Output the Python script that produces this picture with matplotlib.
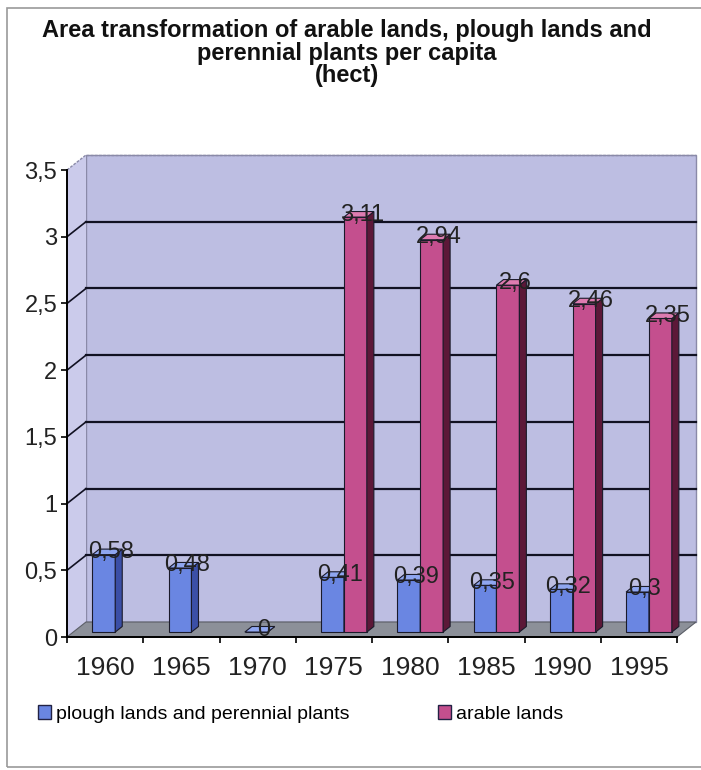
import matplotlib.pyplot as plt
import numpy as np
from matplotlib.patches import Polygon, Rectangle, Patch

years = ['1960', '1965', '1970', '1975', '1980', '1985', '1990', '1995']
plough = [0.58, 0.48, 0, 0.41, 0.39, 0.35, 0.32, 0.3]
arable = [None, None, None, 3.11, 2.94, 2.6, 2.46, 2.35]
yticks = [0, 0.5, 1, 1.5, 2, 2.5, 3, 3.5]
title_lines = ['Area transformation of arable lands, plough lands and',
               'perennial plants per capita', '(hect)']

plt.rcParams['font.family'] = ['Liberation Sans', 'DejaVu Sans']

W, H = 701, 770
fig = plt.figure(figsize=(W / 100, H / 100), dpi=100)
fig.patch.set_facecolor('white')

# front plane of the plot area
ax = fig.add_axes([67 / W, 1 - 637 / H, 610 / W, 467 / H])
ax.set_xlim(-0.5, len(years) - 0.5)
ax.set_ylim(0, 3.5)
ax.patch.set_visible(False)

# depth offset of the back wall in pixels
DX, DY = 19, 15


def P(x, y, d=0.0):
    px = ax.transData.transform((x, y)) + d * np.array([DX, DY])
    return fig.transFigure.inverted().transform(px)


def poly(pts, fc, ec='none', lw=0.8, z=1, ls='-'):
    p = Polygon(pts, closed=True, facecolor=fc, edgecolor=ec, lw=lw, ls=ls,
                transform=fig.transFigure, clip_on=False, zorder=z)
    ax.add_artist(p)


def line(a, b, color='black', lw=1.2, z=1.5, ls='-'):
    ax.plot([a[0], b[0]], [a[1], b[1]], color=color, lw=lw, ls=ls,
            transform=fig.transFigure, clip_on=False, zorder=z)


x0, x1 = -0.5, len(years) - 0.5
ytop = yticks[-1]

# back wall, side wall and floor
poly([P(x0, 0, 1), P(x1, 0, 1), P(x1, ytop, 1), P(x0, ytop, 1)], '#bdbee2', ec='#8a8aa8', lw=1.0)
poly([P(x0, 0, 0), P(x0, 0, 1), P(x0, ytop, 1), P(x0, ytop, 0)], '#cbcbeb', ec='none')
poly([P(x0, 0, 0), P(x1, 0, 0), P(x1, 0, 1), P(x0, 0, 1)], '#8c9099', ec='#5a5d66', lw=0.8, z=1.2)
line(P(x0, ytop, 0), P(x0, ytop, 1), color='#8a8aa8', lw=1.0, ls=(0, (2, 1)))
line(P(x0, ytop, 1), P(x1, ytop, 1), color='#8a8aa8', lw=1.0, ls=(0, (2, 1)))

for v in yticks[1:-1]:
    line(P(x0, v, 1), P(x1, v, 1), color='#111122', lw=1.6)
    line(P(x0, v, 0), P(x0, v, 1), color='#111122', lw=1.2)

# bars
d0, d1 = 0.33, 0.7
bw = 0.3
blue = ('#6a86e2', '#3b4fa6', '#8fa6f0')
pink = ('#c44f8e', '#5c1838', '#de7cb0')


def bar3d(xl, h, cols):
    front, side, top = cols
    xr = xl + bw
    poly([P(xl, 0, d0), P(xr, 0, d0), P(xr, h, d0), P(xl, h, d0)], front, ec='#1a1a2a', lw=0.8, z=2)
    poly([P(xr, 0, d0), P(xr, 0, d1), P(xr, h, d1), P(xr, h, d0)], side, ec='#1a1a2a', lw=0.8, z=2)
    poly([P(xl, h, d0), P(xr, h, d0), P(xr, h, d1), P(xl, h, d1)], top, ec='#1a1a2a', lw=0.8, z=2)


def fmt(v):
    return ('%g' % v).replace('.', ',')


for i in range(len(years)):
    bar3d(i - 0.25, plough[i], blue)
    if arable[i] is not None:
        bar3d(i + 0.05, arable[i], pink)

for i in range(len(years)):
    xy = P(i - 0.25 + bw / 2 + 0.05, plough[i], 0.5)
    ax.text(xy[0], xy[1], fmt(plough[i]), transform=fig.transFigure, ha='center', va='center',
            fontsize=17, color='#222222', zorder=3)
    if arable[i] is not None:
        xy = P(i + 0.05 + bw / 2 + 0.05, arable[i], 0.5)
        ax.text(xy[0], xy[1], fmt(arable[i]), transform=fig.transFigure, ha='center', va='center',
                fontsize=17, color='#222222', zorder=3)

# axes: front y axis and floor edge
for s in ['top', 'right']:
    ax.spines[s].set_visible(False)
ax.spines['left'].set_linewidth(1.4)
ax.spines['bottom'].set_linewidth(1.4)
ax.spines['left'].set_zorder(2.5)
ax.spines['bottom'].set_zorder(2.5)
ax.set_yticks(yticks)
ax.set_yticklabels([fmt(v) for v in yticks], fontsize=17, color='#222222')
ax.set_xticks(range(len(years)))
ax.set_xticklabels(years, fontsize=19, color='#222222')
ax.set_xticks(np.arange(-0.5, len(years), 1), minor=True)
ax.tick_params(axis='x', which='major', length=0, pad=14)
ax.tick_params(axis='x', which='minor', length=4, width=1.2, direction='out')
ax.tick_params(axis='y', length=4, width=1.2, pad=3)

for k, (txt, yb) in enumerate(zip(title_lines, [37, 60, 82])):
    fig.text(0.495, 1 - yb / H, txt, ha='center', va='baseline', fontsize=17,
             fontweight='bold', color='#111111')

fig.legend(handles=[Patch(facecolor=blue[0], edgecolor='#222244', label='plough lands and perennial plants'),
                    Patch(facecolor=pink[0], edgecolor='#222244', label='arable lands')],
           loc='center left', bbox_to_anchor=(38 / W, 1 - 714 / H), ncol=2, frameon=False,
           fontsize=14, handlelength=0.65, handleheight=0.7, handletextpad=0.25,
           columnspacing=4.6, borderaxespad=0, borderpad=0)

fig.add_artist(Rectangle((7 / W, 1 - 767 / H), 700 / W, 759 / H, transform=fig.transFigure,
                         facecolor='none', edgecolor='#9a9a9a', lw=1.2))

fig.savefig('out.png', dpi=100)
